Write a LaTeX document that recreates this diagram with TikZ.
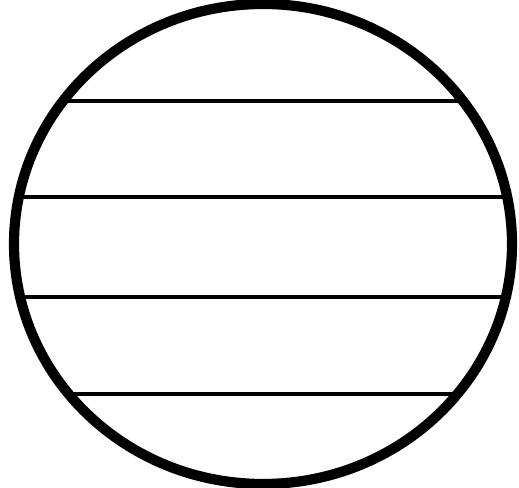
\documentclass[tikz,border=0pt]{standalone}
\usepackage{tikz}
\usetikzlibrary{calc}

\tikzset{
  rim/.style={draw=black, line width=2.9pt},
  band/.style={draw=black, line width=1.1pt}
}

\begin{document}
\begin{tikzpicture}[scale=1.0]

\useasboundingbox (0,0) rectangle (5.19,4.88);

% bands inside the disc
\begin{scope}
\clip (2.63,2.44) ellipse (2.49cm and 2.40cm);
\foreach \y in {3.87, 2.91, 1.91, 0.94}
  \draw[band] (0,\y) -- (5.19,\y);
\end{scope}

% outline
\draw[rim] (2.63,2.44) ellipse (2.49cm and 2.40cm);

\end{tikzpicture}
\end{document}
